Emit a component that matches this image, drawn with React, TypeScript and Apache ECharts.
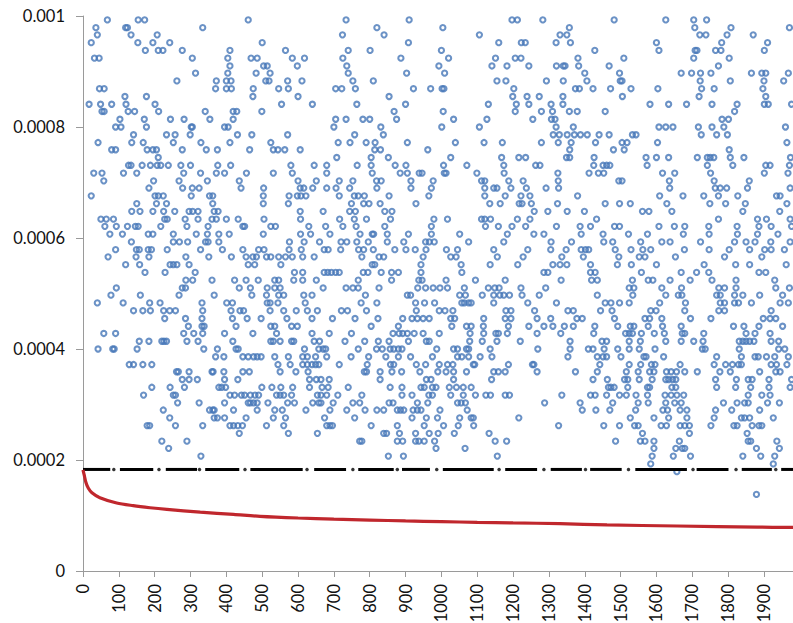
import React, { useEffect, useRef } from "react";
import * as echarts from "echarts";

// y-axis ticks / x-axis
const Y_TICKS = [0, 0.0002, 0.0004, 0.0006, 0.0008, 0.001];
const X_MAX = 1981;
const X_INTERVAL = 100;

// Blue scatter points: [y level, x indices at that level]
const ROWS_A: Array<[number, number[]]> = [
  [0.000993, [68, 154, 172, 461, 734, 910, 1197, 1212, 1283, 1482, 1626, 1704, 1740]],
  [0.000979, [36, 119, 124, 334, 820, 1004, 1357, 1707, 1808, 1971]],
  [0.000966, [40, 134, 207, 724, 840, 1106, 1331, 1350, 1721, 1738, 1797, 1870]],
  [0.000952, [23, 153, 195, 242, 500, 908, 1160, 1223, 1234, 1320, 1360, 1600, 1782, 1910]],
  [0.000938, [174, 210, 223, 277, 410, 565, 740, 801, 1000, 1428, 1607, 1708, 1713, 1765, 1780, 1901]],
  [0.000924, [32, 45, 305, 404, 469, 486, 584, 618, 725, 887, 1020, 1151, 1206, 1222, 1381, 1509, 1704, 1803]],
  [0.00091, [410, 504, 514, 598, 736, 993, 1141, 1183, 1244, 1321, 1340, 1345, 1383, 1468, 1773]],
  [0.000897, [314, 404, 483, 522, 740, 903, 1009, 1400, 1497, 1669, 1698, 1723, 1752, 1865, 1894, 1905, 1968]],
  [0.000883, [262, 372, 400, 413, 510, 519, 571, 611, 753, 810, 1155, 1180, 1293, 1340, 1406, 1499, 1504, 1722, 1806, 1900, 1955]],
  [0.000869, [46, 59, 370, 400, 414, 475, 546, 573, 705, 722, 760, 922, 970, 1002, 1007, 1202, 1374, 1385, 1423, 1472, 1529, 1604, 1726, 1761, 1897]],
];
const ROWS_B: Array<[number, number[]]> = [
  [0.000855, [117, 177, 474, 600, 854, 1199, 1239, 1273, 1339, 1505, 1719, 1905]],
  [0.000841, [17, 49, 80, 120, 201, 554, 640, 764, 900, 1131, 1209, 1244, 1306, 1339, 1582, 1634, 1684, 1755, 1825, 1901, 1912, 1977]],
  [0.000828, [53, 59, 126, 144, 211, 341, 419, 429, 499, 868, 1005, 1206, 1279, 1310, 1357, 1379, 1457, 1818]],
  [0.000814, [103, 171, 244, 282, 354, 419, 705, 734, 781, 800, 875, 1034, 1127, 1255, 1307, 1317, 1783, 1801]],
  [0.0008, [91, 106, 177, 302, 305, 395, 405, 700, 831, 1001, 1106, 1320, 1368, 1607, 1626, 1646, 1717, 1755, 1788, 1960]],
  [0.000786, [141, 233, 257, 299, 431, 471, 571, 758, 838, 1312, 1329, 1351, 1371, 1388, 1407, 1440, 1468, 1533, 1543, 1725, 1768, 1798]],
  [0.000772, [42, 136, 168, 252, 329, 410, 524, 712, 745, 790, 815, 905, 1039, 1119, 1170, 1279, 1326, 1362, 1430, 1504, 1518, 1603, 1964]],
  [0.000759, [80, 91, 179, 195, 205, 277, 344, 375, 465, 531, 544, 563, 606, 814, 830, 962, 1358, 1480, 1510, 1803]],
  [0.000745, [210, 708, 804, 852, 1026, 1168, 1216, 1235, 1349, 1358, 1426, 1571, 1600, 1634, 1714, 1742, 1750, 1760, 1806, 1844, 1974]],
  [0.000731, [127, 134, 165, 188, 207, 217, 238, 273, 300, 376, 412, 580, 645, 680, 765, 804, 871, 901, 1006, 1071, 1174, 1263, 1275, 1425, 1451, 1461, 1470, 1574, 1742, 1813, 1905, 1917, 1971]],
  [0.000717, [30, 53, 113, 150, 281, 328, 372, 395, 456, 531, 584, 680, 807, 885, 905, 938, 946, 1008, 1013, 1099, 1175, 1325, 1412, 1438, 1453, 1617, 1651, 1751, 1901, 1967]],
];
const ROWS_C: Array<[number, number[]]> = [
  [0.000703, [58, 197, 268, 347, 436, 600, 651, 715, 753, 819, 832, 915, 977, 1112, 1121, 1188, 1228, 1326, 1495, 1504, 1636, 1761, 1859]],
  [0.00069, [184, 278, 305, 324, 441, 504, 606, 616, 641, 680, 706, 744, 820, 915, 972, 1121, 1146, 1155, 1194, 1237, 1292, 1327, 1637, 1764, 1778, 1796, 1854, 1973]],
  [0.000676, [23, 201, 210, 224, 302, 353, 362, 503, 575, 598, 608, 622, 715, 757, 768, 785, 854, 965, 1121, 1178, 1222, 1247, 1380, 1609, 1674, 1732, 1773, 1827, 1935, 1945]],
  [0.000662, [150, 205, 233, 362, 503, 573, 749, 783, 798, 829, 929, 1135, 1164, 1217, 1225, 1251, 1324, 1457, 1497, 1527, 1629, 1749, 1793, 1848, 1964]],
  [0.000648, [136, 159, 195, 225, 256, 296, 306, 321, 366, 377, 606, 670, 744, 760, 842, 862, 1259, 1297, 1351, 1399, 1561, 1579, 1643, 1841, 1944]],
  [0.000634, [50, 65, 85, 228, 235, 285, 321, 360, 372, 400, 433, 505, 607, 716, 757, 791, 858, 979, 1017, 1112, 1121, 1137, 1212, 1247, 1433, 1773, 1882, 1907, 1973]],
  [0.000621, [61, 93, 124, 146, 154, 217, 290, 349, 446, 451, 524, 537, 630, 677, 725, 762, 842, 972, 1123, 1159, 1197, 1235, 1321, 1387, 1416, 1483, 1497, 1607, 1650, 1679, 1746, 1825, 1886, 1920, 1977]],
  [0.000607, [75, 110, 182, 195, 252, 316, 347, 379, 408, 503, 607, 635, 689, 773, 807, 811, 849, 908, 972, 1051, 1184, 1258, 1286, 1390, 1451, 1522, 1575, 1675, 1747, 1826, 1882, 1939]],
  [0.000593, [135, 252, 269, 292, 342, 349, 379, 576, 617, 660, 720, 736, 764, 796, 849, 895, 956, 966, 980, 1076, 1174, 1306, 1363, 1453, 1478, 1556, 1615, 1638, 1723, 1818, 1850, 1875, 1919, 1973]],
  [0.000579, [91, 149, 157, 182, 191, 235, 328, 389, 446, 490, 505, 575, 609, 673, 684, 719, 769, 783, 810, 870, 901, 927, 957, 1014, 1045, 1146, 1241, 1305, 1348, 1390, 1402, 1411, 1485, 1529, 1562, 1584, 1678, 1747, 1803, 1860, 1902, 1920, 1957]],
];
const ROWS_D: Array<[number, number[]]> = [
  [0.000566, [70, 148, 184, 287, 351, 414, 455, 474, 484, 512, 524, 546, 565, 584, 613, 645, 778, 826, 839, 949, 1026, 1041, 1156, 1228, 1336, 1396, 1495, 1552, 1568, 1653, 1790, 1894]],
  [0.000552, [119, 158, 243, 252, 262, 296, 461, 479, 552, 807, 814, 943, 1055, 1136, 1213, 1311, 1331, 1350, 1416, 1491, 1530, 1600, 1733, 1821, 1860, 1962]],
  [0.000538, [173, 229, 313, 590, 613, 673, 683, 693, 705, 715, 782, 795, 832, 861, 880, 943, 1057, 1286, 1297, 1416, 1429, 1558, 1669, 1712, 1746, 1886, 1905]],
  [0.000524, [287, 306, 360, 423, 455, 489, 535, 546, 588, 613, 651, 768, 861, 937, 946, 1013, 1095, 1178, 1334, 1419, 1435, 1533, 1577, 1590, 1638, 1694, 1755, 1822, 1930]],
  [0.00051, [93, 277, 286, 436, 467, 514, 535, 550, 670, 734, 753, 768, 826, 934, 956, 977, 996, 1017, 1064, 1131, 1149, 1161, 1222, 1291, 1524, 1537, 1615, 1670, 1774, 1790, 1822, 1933, 1971]],
  [0.000497, [78, 160, 268, 366, 471, 512, 546, 560, 616, 639, 788, 905, 914, 1051, 1067, 1114, 1146, 1163, 1174, 1190, 1225, 1273, 1435, 1534, 1626, 1661, 1671, 1768, 1778, 1818, 1841, 1888, 1952]],
  [0.000483, [40, 112, 186, 215, 332, 401, 417, 514, 522, 544, 620, 776, 820, 928, 953, 981, 1057, 1064, 1076, 1083, 1146, 1241, 1321, 1457, 1473, 1497, 1524, 1609, 1681, 1778, 1790, 1818, 1829, 1865, 1945, 1968]],
  [0.000469, [141, 167, 188, 225, 242, 258, 334, 413, 438, 448, 522, 560, 595, 626, 654, 721, 738, 791, 930, 994, 1010, 1032, 1180, 1194, 1260, 1353, 1368, 1444, 1476, 1584, 1599, 1679, 1774, 1790, 1920]],
  [0.000455, [228, 286, 332, 417, 458, 497, 569, 639, 696, 759, 823, 892, 918, 933, 949, 966, 1026, 1037, 1118, 1178, 1194, 1267, 1305, 1378, 1393, 1483, 1568, 1581, 1615, 1695, 1752, 1898, 1917, 1933]],
  [0.000441, [294, 332, 338, 427, 524, 535, 582, 598, 804, 880, 1029, 1070, 1083, 1117, 1187, 1244, 1286, 1311, 1343, 1368, 1428, 1492, 1527, 1537, 1577, 1617, 1669, 1815, 1844, 1886, 1952]],
  [0.000428, [58, 91, 281, 309, 334, 395, 474, 540, 639, 687, 749, 865, 882, 892, 905, 924, 949, 994, 1080, 1118, 1152, 1159, 1184, 1267, 1333, 1425, 1514, 1524, 1533, 1558, 1594, 1622, 1672, 1679, 1732, 1850, 1875, 1917]],
];
const ROWS_E: Array<[number, number[]]> = [
  [0.000414, [157, 184, 220, 226, 233, 290, 321, 418, 524, 531, 550, 582, 588, 645, 660, 731, 786, 824, 854, 908, 958, 966, 1079, 1114, 1155, 1220, 1359, 1448, 1461, 1524, 1555, 1626, 1669, 1704, 1730, 1831, 1841, 1850, 1860, 1872, 1920, 1941]],
  [0.0004, [42, 83, 87, 151, 337, 375, 427, 433, 618, 658, 670, 677, 768, 819, 835, 857, 867, 880, 890, 987, 1034, 1045, 1070, 1076, 1136, 1269, 1359, 1410, 1423, 1454, 1492, 1524, 1552, 1596, 1728, 1736, 1831, 1941, 1958]],
  [0.000386, [370, 393, 446, 461, 476, 486, 497, 535, 573, 613, 626, 649, 680, 748, 797, 845, 880, 914, 975, 1045, 1057, 1076, 1108, 1141, 1353, 1435, 1451, 1461, 1501, 1565, 1571, 1620, 1768, 1837, 1875, 1884, 1907, 1930, 1968]],
  [0.000372, [129, 141, 167, 192, 544, 578, 613, 626, 639, 649, 658, 715, 793, 858, 867, 930, 956, 994, 1017, 1032, 1089, 1093, 1187, 1254, 1258, 1442, 1524, 1556, 1586, 1596, 1666, 1761, 1793, 1812, 1829, 1837, 1920, 1935, 1964]],
  [0.000359, [261, 266, 296, 360, 363, 393, 446, 464, 550, 594, 628, 785, 791, 829, 862, 889, 940, 990, 1013, 1034, 1070, 1146, 1159, 1178, 1267, 1374, 1435, 1516, 1549, 1581, 1593, 1628, 1641, 1656, 1679, 1714, 1777, 1806, 1888, 1933, 1945]],
  [0.000345, [277, 296, 319, 395, 432, 632, 651, 664, 687, 829, 958, 971, 1034, 1140, 1423, 1463, 1511, 1520, 1552, 1588, 1626, 1634, 1645, 1654, 1765, 1823, 1856, 1867, 1914, 1977]],
  [0.000331, [192, 243, 283, 379, 387, 398, 499, 527, 552, 585, 632, 667, 684, 740, 857, 890, 943, 952, 975, 985, 1022, 1042, 1061, 1083, 1466, 1473, 1482, 1520, 1575, 1581, 1643, 1654, 1768, 1821, 1863, 1914, 1973]],
  [0.000317, [169, 252, 258, 410, 423, 442, 451, 467, 480, 490, 540, 550, 560, 582, 654, 664, 680, 711, 778, 890, 918, 965, 975, 1026, 1061, 1095, 1124, 1137, 1178, 1190, 1336, 1416, 1429, 1461, 1497, 1516, 1543, 1575, 1624, 1641, 1657, 1676, 1856, 1894, 1917]],
  [0.000303, [264, 324, 395, 461, 467, 476, 486, 516, 571, 590, 641, 658, 664, 698, 753, 772, 854, 865, 933, 962, 1045, 1055, 1067, 1288, 1387, 1478, 1549, 1577, 1626, 1651, 1669, 1787, 1825, 1846, 1856, 1910, 1943]],
  [0.00029, [224, 353, 362, 366, 420, 486, 535, 556, 622, 689, 736, 787, 820, 839, 877, 886, 895, 921, 933, 943, 996, 1072, 1393, 1431, 1470, 1542, 1618, 1631, 1666, 1685, 1765, 1810, 1888]],
];
const ROWS_F: Array<[number, number[]]> = [
  [0.000276, [242, 366, 375, 395, 455, 531, 565, 674, 758, 918, 958, 989, 1051, 1083, 1089, 1216, 1527, 1593, 1634, 1685, 1761, 1837, 1846, 1860, 1926]],
  [0.000262, [179, 186, 258, 334, 410, 420, 432, 445, 512, 560, 680, 689, 696, 804, 877, 952, 1006, 1047, 1090, 1327, 1453, 1497, 1539, 1549, 1613, 1628, 1666, 1679, 1692, 1752, 1816, 1825, 1867, 1886, 1894]],
  [0.000248, [436, 573, 654, 839, 847, 883, 928, 966, 991, 1036, 1133, 1561, 1692, 1853]],
  [0.000234, [220, 290, 772, 778, 877, 892, 928, 937, 952, 981, 1150, 1182, 1486, 1555, 1568, 1593, 1664, 1856, 1863, 1936]],
  [0.000221, [239, 985, 1066, 1593, 1654, 1672, 1679, 1879, 1943]],
  [0.000207, [329, 852, 894, 1156, 1588, 1647, 1695, 1841, 1891, 1930]],
  [0.000193, [1584, 1926]],
  [0.000179, [1657]],
  [0.000138, [1879]],
];

// Black threshold (dash-dot made of markers)
const THRESHOLD = 0.000183;
const THRESHOLD_SEGMENTS: Array<[number, number]> = [
  [0, 76], [103, 196], [231, 318], [341, 436], [467, 613], [645, 734], [768, 867],
  [890, 968], [1004, 1146], [1178, 1267], [1305, 1392], [1415, 1503], [1541, 1685],
  [1712, 1801], [1838, 1922], [1948, 1981],
];
const THRESHOLD_DOTS = [86, 212, 325, 452, 625, 753, 877, 987, 1161, 1286, 1402, 1522, 1702, 1822, 1933];

// Red curve
const RED_X = [0, 3, 8, 15, 25, 47, 94, 140, 187, 234, 327, 420, 494, 600, 700, 800, 900, 1000, 1100, 1200, 1331, 1462, 1658, 1881, 1981];
const RED_Y = [0.000182, 0.000174, 0.00016, 0.000149, 0.000141, 0.000132, 0.0001225, 0.0001177, 0.000114, 0.000111, 0.000106, 0.000102, 0.0000985, 0.0000955, 0.0000935, 0.0000918, 0.0000902, 0.0000889, 0.0000877, 0.0000866, 0.0000853, 0.000083, 0.0000811, 0.000079, 0.0000785];

const FONT = "Lato";

export default function App() {
  const ref = useRef<HTMLDivElement>(null);
  useEffect(() => {
    if (!ref.current) return;
    const chart = echarts.init(ref.current, undefined, { renderer: "svg" });
    const allRows = [...ROWS_A, ...ROWS_B, ...ROWS_C, ...ROWS_D, ...ROWS_E, ...ROWS_F];
    const scatterData: number[][] = [];
    allRows.forEach(([y, xs]) => xs.forEach((x) => scatterData.push([x, y])));

    const segSeries = THRESHOLD_SEGMENTS.map(([s, e]) => ({
      type: "line",
      data: [[s, THRESHOLD], [e, THRESHOLD]],
      symbol: "none",
      lineStyle: { color: "#000", width: 3 },
      silent: true,
      z: 3,
    }));

    chart.setOption({
      animation: false,
      grid: {
        left: 83,
        right: 0,
        top: 16,
        bottom: 52,
        containLabel: false,
        outerBoundsMode: "none",
      },
      xAxis: {
        type: "value",
        min: 0,
        max: X_MAX,
        interval: X_INTERVAL,
        splitLine: { show: false },
        axisLine: { show: true, lineStyle: { color: "#9a9a9a", width: 1 } },
        axisTick: { show: true, length: 6, lineStyle: { color: "#9a9a9a" } },
        axisLabel: {
          rotate: 90,
          margin: 13,
          fontSize: 16.5,
          fontFamily: FONT,
          color: "#111",
          showMaxLabel: false,
          formatter: (v: number) => (v % 100 === 0 ? String(v) : ""),
        },
      },
      yAxis: {
        type: "value",
        min: Y_TICKS[0],
        max: Y_TICKS[Y_TICKS.length - 1],
        interval: 0.0002,
        splitLine: { show: false },
        axisLine: { show: true, lineStyle: { color: "#9a9a9a", width: 1 } },
        axisTick: { show: true, length: 7, lineStyle: { color: "#9a9a9a" } },
        axisLabel: {
          margin: 18,
          fontSize: 16.5,
          fontFamily: FONT,
          color: "#111",
          formatter: (v: number) => (v === 0 ? "0" : String(+v.toFixed(4))),
        },
      },
      series: [
        {
          type: "scatter",
          data: scatterData,
          symbol: "circle",
          symbolSize: 5.2,
          itemStyle: { color: "rgba(255,255,255,0)", borderColor: "#4677b8", borderWidth: 2.1 },
          silent: true,
          z: 2,
        },
        ...segSeries,
        {
          type: "scatter",
          data: THRESHOLD_DOTS.map((x) => [x, THRESHOLD]),
          symbol: "circle",
          symbolSize: 3.5,
          itemStyle: { color: "#000" },
          silent: true,
          z: 3,
        },
        {
          type: "line",
          data: RED_X.map((x, i) => [x, RED_Y[i]]),
          smooth: 0.3,
          symbol: "none",
          lineStyle: { color: "#c0272d", width: 3.2 },
          silent: true,
          z: 4,
        },
      ],
    });
    return () => chart.dispose();
  }, []);
  return (
    <div
      ref={ref}
      style={{ position: "absolute", left: 0, top: 0, width: 793, height: 623, background: "#fff" }}
    />
  );
}
